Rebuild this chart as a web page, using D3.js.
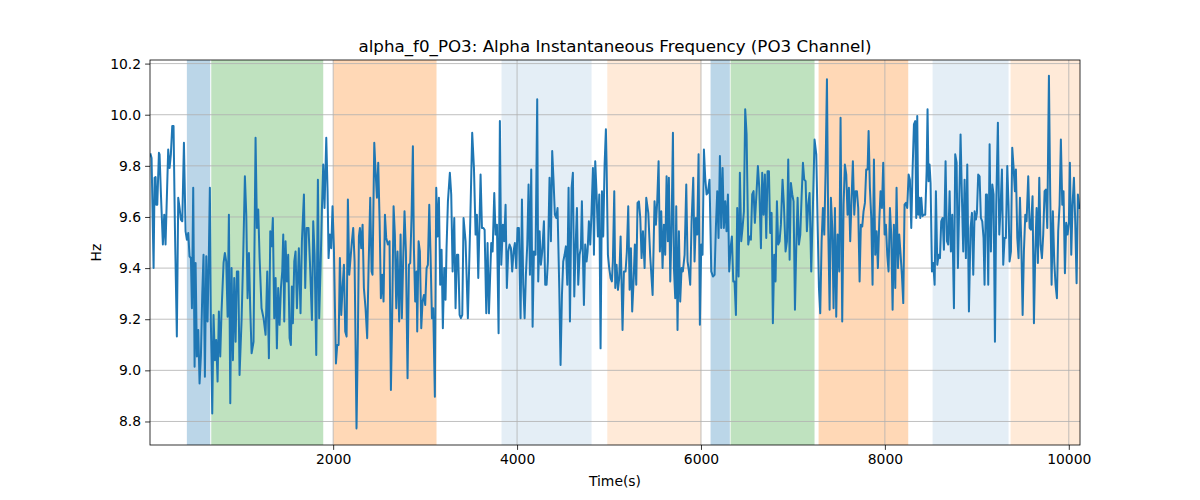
<!DOCTYPE html>
<html><head><meta charset="utf-8">
<script src="https://cdn.jsdelivr.net/npm/d3@7"></script>
<style>body{margin:0;background:#fff}svg{display:block}text{font-family:"DejaVu Sans",sans-serif;fill:#000}</style>
</head><body><svg id="c" width="1200" height="500"></svg>
<script>
const title = "alpha_f0_PO3: Alpha Instantaneous Frequency (PO3 Channel)";
const xLabel = "Time(s)";
const yLabel = "Hz";
const xTicks = [2000, 4000, 6000, 8000, 10000];
const yTicks = [8.8, 9.0, 9.2, 9.4, 9.6, 9.8, 10.0, 10.2];
const xRange = [8, 10122];
const yRange = [8.708, 10.214];

const spanStart = [409, 674, 2001, 3831, 4981, 6104, 6322, 7279, 8519, 9367];
const spanEnd   = [663, 1892, 3124, 4810, 6003, 6314, 7235, 8254, 9345, 10122];
const spanColor = ["#1f77b4","#2ca02c","#ff7f0e","#1f77b4","#ff7f0e","#1f77b4","#2ca02c","#ff7f0e","#1f77b4","#ff7f0e"];
const spanAlpha = [0.3, 0.3, 0.3, 0.12, 0.16, 0.3, 0.3, 0.3, 0.12, 0.16];

const times = [
14,25,47,58,69,76,87,105,112,127,148,163,177,206,221,235,250,264,279,300,315,330,344,359,377,395,409,424,438,453,464,478,493,504,518,533,547,562,576,590,605,620,634,648,659,670,685,699,714,728,743,757,772,786,808,822,837,852,866,881,895,910,924,939,953,968,982,1004,1022,1040,1055,1069,1084,1098,1113,1134,1156,1171,1185,1200,1221,1243,1265,1283,1301,1316,1330,1344,1359,1374,1388,1402,1417,1432,1446,1457,1468,1482,1497,1511,1526,1540,1551,1562,1577,1591,1606,1627,
1645,1660,1682,1696,1711,1732,1747,1769,1783,1798,1816,1834,1848,1863,1877,1892,1906,1925,1939,1950,1964,1979,1993,2008,2030,2044,2059,2073,2088,2102,2117,2131,2146,2160,2175,2189,2204,2218,2233,2254,2269,2280,2291,2305,2320,2334,2352,2370,2385,2403,2418,2428,2447,2461,2476,2490,2505,2519,2534,2548,2563,2577,2595,2613,2628,2642,2657,2671,2686,2700,2718,2733,2747,2762,2776,2791,2809,2824,2838,2853,2867,2878,2892,2907,2914,2929,2943,2958,2972,2987,3001,3016,3030,3045,3059,3074,3088,3106,3121,3135,3150,3164,3179,3193,3208,3222,3233,3248,3269,3284,3299,
3317,3331,3346,3360,3375,3389,3404,3418,3440,3465,3491,3512,3531,3549,3563,3578,3592,3603,3618,3632,3647,3665,3679,3694,3719,3734,3752,3766,3781,3799,3813,3828,3846,3860,3875,3889,3904,3918,3933,3947,3962,3976,3991,4005,4020,4038,4053,4067,4082,4096,4111,4125,4140,4154,4169,4183,4201,4219,4230,4245,4259,4274,4292,4306,4321,4335,4353,4368,4382,4397,4411,4426,4440,4459,4473,4488,4502,4517,4531,4546,4560,4575,4593,4607,4622,4636,4651,4665,4680,4694,4705,4716,4727,4741,4756,4767,4781,4796,4810,4825,4836,4850,4865,4879,4894,4908,4923,4937,4952,4966,
4973,4988,5002,5017,5031,5042,5057,5068,5082,5097,5111,5126,5147,5162,5180,5194,5209,5224,5238,5252,5267,5281,5296,5310,5325,5340,5354,5369,5387,5405,5427,5448,5474,5495,5510,5524,5539,5553,5568,5582,5597,5611,5626,5640,5651,5666,5680,5695,5706,5720,5731,5745,5760,5774,5789,5803,5822,5840,5854,5869,5883,5898,5916,5930,5945,5959,5974,5988,6003,6017,6032,6046,6061,6075,6093,6112,6130,6148,6162,6177,6191,6206,6220,6235,6249,6264,6278,6293,6307,6322,6336,6351,6365,6380,6394,6409,6423,6438,6452,6467,6481,6496,6514,6528,6543,6557,6572,6586,6605,6619,6634,
6652,6666,6681,6695,6710,6724,6739,6753,6768,6782,6797,6811,6826,6840,6855,6869,6887,6902,6920,6935,6949,6964,6978,6993,7007,7022,7036,7051,7065,7080,7094,7109,7123,7138,7152,7167,7181,7199,7217,7235,7254,7268,7283,7297,7312,7326,7341,7355,7370,7384,7399,7413,7428,7442,7457,7471,7486,7504,7518,7536,7551,7565,7580,7594,7609,7623,7638,7652,7667,7681,7696,7710,7725,7739,7754,7768,7783,7797,7812,7823,7837,7852,7866,7881,7895,7910,7924,7939,7953,7968,7982,7997,8011,8026,8040,8055,8069,8084,8098,8113,8127,8142,8156,8171,8185,8200,8214,8229,8243,8258,8272,8287,8301,8316,
8330,8341,8352,8363,8374,8385,8396,8410,8425,8439,8454,8464,8475,8486,8497,8512,8526,8541,8555,8570,8584,8599,8613,8628,8642,8660,8675,8689,8704,8718,8733,8751,8765,8780,8794,8809,8823,8838,8852,8867,8881,8896,8914,8932,8947,8961,8976,8990,9001,9015,9030,9044,9059,9073,9084,9099,9110,9124,9139,9153,9168,9182,9197,9211,9229,9244,9258,9273,9287,9302,9316,9331,9345,9356,9371,9385,9400,9414,9425,9440,9454,9469,9483,9498,9512,9527,9541,9559,9574,9588,9606,9621,9635,9650,9664,9679,9693,9708,9722,9737,9751,9766,9784,9798,9813,9827,9842,9856,9871,9885,9900,9914,9929,9943,9958,9972,9987,10001,10012,10027,10041,10056,10070,10085,10099,10114
];
const freqHz = [
9.845,9.831,9.400,9.753,9.756,9.648,9.648,9.851,9.845,9.688,9.492,9.609,9.492,9.864,9.792,9.845,9.956,9.956,9.557,9.132,9.675,9.635,9.590,9.583,9.890,9.544,9.511,9.537,9.446,9.439,9.243,9.714,9.014,9.420,9.054,9.158,8.949,9.060,9.295,9.452,8.975,9.446,9.191,9.452,9.714,9.191,8.831,9.217,9.040,9.119,8.956,9.230,9.054,9.230,9.420,9.459,9.426,9.210,9.609,8.871,9.400,9.040,9.361,9.112,9.387,9.387,8.982,9.197,9.452,9.759,9.609,9.282,9.459,9.243,9.067,9.112,9.910,9.557,9.629,9.439,9.243,9.204,9.139,9.387,9.047,9.544,9.485,9.596,9.204,9.361,9.086,9.322,9.178,9.322,9.387,9.531,9.191,9.505,9.348,9.452,9.126,9.099,9.328,9.184,9.426,9.465,9.243,9.478,
9.223,9.505,9.688,9.322,9.557,9.557,9.426,9.197,9.583,9.452,9.060,9.746,9.204,9.400,9.622,9.805,9.635,9.910,9.701,9.439,9.531,9.478,9.642,9.478,9.027,9.099,9.099,9.439,9.217,9.322,9.413,9.152,9.132,9.668,9.374,9.439,9.505,9.557,9.426,8.773,9.139,9.524,9.557,9.478,9.570,9.322,9.243,9.126,9.400,9.675,9.387,9.374,9.890,9.779,9.675,9.812,9.583,9.282,9.374,9.269,9.609,9.518,9.492,9.505,8.923,9.217,9.642,9.531,9.243,9.465,9.191,9.531,9.204,9.439,9.622,9.465,8.969,9.413,9.420,9.609,9.877,9.478,9.269,9.387,9.152,9.505,9.465,9.165,9.269,9.295,9.256,9.400,9.413,9.648,9.452,9.204,9.243,8.897,9.714,9.524,9.675,9.335,9.472,9.165,9.400,9.276,9.478,9.661,9.773,9.688,9.387,
9.596,9.243,9.452,9.452,9.217,9.204,9.217,9.596,9.505,9.204,9.583,9.929,9.792,9.531,9.609,9.361,9.583,9.766,9.557,9.557,9.550,9.223,9.498,9.223,9.498,9.465,9.694,9.531,9.570,9.145,9.975,9.413,9.570,9.505,9.648,9.322,9.465,9.492,9.478,9.387,9.465,9.498,9.400,9.557,9.557,9.204,9.668,9.335,9.204,9.374,9.492,9.727,9.374,9.786,9.171,9.465,9.452,10.060,9.348,9.544,9.413,9.465,9.583,9.335,9.335,9.426,9.753,9.505,9.858,9.740,9.609,9.596,9.635,9.322,9.021,9.295,9.426,9.452,9.485,9.335,9.714,9.191,9.714,9.773,9.289,9.478,9.635,9.335,9.452,9.478,9.661,9.452,9.256,9.492,9.426,9.465,9.583,9.492,9.622,9.792,9.452,9.818,9.688,9.524,9.688,9.086,9.701,9.524,9.805,9.943,
9.818,9.452,9.400,9.361,9.348,9.426,9.701,9.322,9.413,9.315,9.361,9.524,9.158,9.387,9.387,9.465,9.642,9.315,9.478,9.230,9.348,9.492,9.335,9.655,9.661,9.596,9.439,9.544,9.400,9.675,9.616,9.446,9.295,9.661,9.570,9.661,9.818,9.465,9.622,9.400,9.570,9.452,9.759,9.505,9.753,9.348,9.557,9.929,9.400,9.282,9.642,9.158,9.544,9.269,9.400,9.387,9.452,9.727,9.426,9.387,9.335,9.583,9.753,9.426,9.596,9.531,9.845,9.178,9.492,9.452,9.864,9.753,9.688,9.694,9.746,9.387,9.367,9.374,9.557,9.701,9.518,9.838,9.557,9.792,9.557,9.661,9.544,9.688,9.387,9.478,9.524,9.348,9.348,9.217,9.635,9.367,9.773,9.505,9.557,9.622,10.021,9.923,9.492,9.524,9.511,9.688,9.701,9.577,9.701,9.799,9.714,
9.478,9.773,9.609,9.766,9.518,9.779,9.779,9.537,9.616,9.184,9.452,9.348,9.661,9.492,9.505,9.570,9.746,9.648,9.465,9.505,9.825,9.433,9.733,9.688,9.661,9.237,9.478,9.675,9.492,9.531,9.675,9.812,9.746,9.740,9.544,9.648,9.694,9.387,9.635,9.903,9.845,9.583,9.322,9.223,9.505,9.635,9.531,9.779,10.139,9.557,9.237,9.675,9.557,9.243,9.635,9.210,9.531,9.387,9.988,9.191,9.648,9.805,9.766,9.609,9.714,9.505,9.675,9.818,9.609,9.701,9.701,9.635,9.348,9.570,9.563,9.622,9.655,9.786,9.786,9.936,9.714,9.596,9.335,9.825,9.452,9.544,9.400,9.583,9.701,9.635,9.812,9.531,9.570,9.452,9.387,9.635,9.531,9.237,9.570,9.322,9.714,9.400,9.531,9.452,9.374,9.263,9.648,9.655,9.635,9.766,9.746,9.557,9.779,9.962,
9.975,9.596,9.995,9.609,9.675,9.596,9.675,9.603,9.609,9.609,9.779,10.021,9.740,9.805,9.733,9.387,9.420,9.335,9.701,9.413,9.452,9.439,9.583,9.596,9.472,9.818,9.505,9.492,9.701,9.465,9.609,9.243,9.845,9.812,9.400,9.661,9.923,9.675,9.465,9.746,9.439,9.805,9.230,9.557,9.616,9.374,9.622,9.590,9.616,9.766,9.759,9.596,9.583,9.518,9.335,9.688,9.688,9.335,9.884,9.465,9.727,9.688,9.112,9.648,9.969,9.531,9.635,9.786,9.413,9.518,9.518,9.799,9.648,9.426,9.465,9.871,9.792,9.701,9.786,9.518,9.439,9.675,9.505,9.217,9.465,9.609,9.583,9.759,9.557,9.550,9.681,9.184,9.452,9.635,9.420,9.753,9.492,9.439,9.531,9.701,9.707,9.557,10.152,9.688,9.335,9.622,9.426,9.335,9.282,9.544,9.648,9.903,9.648,9.701,9.380,9.577,9.531,9.577,9.812,9.452,9.648,9.753,9.583,9.341,9.688,9.635
];

const W = 1200, H = 500;
const m = {left: 150, top: 60, right: 120, bottom: 55};
const iw = W - m.left - m.right, ih = H - m.top - m.bottom;
const svg = d3.select("#c");
const x = d3.scaleLinear().domain(xRange).range([0, iw]);
const y = d3.scaleLinear().domain(yRange).range([ih, 0]);
const g = svg.append("g").attr("transform", `translate(${m.left},${m.top})`);

g.append("clipPath").attr("id","clip").append("rect").attr("width", iw).attr("height", ih);

// spans
g.append("g").attr("clip-path","url(#clip)").selectAll("rect").data(spanStart.map((s,i)=>i)).join("rect")
  .attr("x", i => x(spanStart[i])).attr("width", i => x(spanEnd[i]) - x(spanStart[i]))
  .attr("y", 0).attr("height", ih)
  .attr("fill", i => spanColor[i]).attr("fill-opacity", i => spanAlpha[i]);

// grid
const grid = g.append("g");
grid.selectAll(".gx").data(xTicks).join("line")
  .attr("x1", d => x(d)).attr("x2", d => x(d)).attr("y1", 0).attr("y2", ih)
  .attr("stroke", "#b0b0b0").attr("stroke-width", 0.8);
grid.selectAll(".gy").data(yTicks).join("line")
  .attr("y1", d => y(d)).attr("y2", d => y(d)).attr("x1", 0).attr("x2", iw)
  .attr("stroke", "#b0b0b0").attr("stroke-width", 0.8);

// line
const pts = times.map((t,i)=>[t, freqHz[i]]);
g.append("path").datum(pts).attr("clip-path","url(#clip)")
  .attr("fill","none").attr("stroke","#1f77b4").attr("stroke-width",2)
  .attr("stroke-linejoin","round").attr("stroke-linecap","square")
  .attr("d", d3.line().x(d=>x(d[0])).y(d=>y(d[1])));

// axes
const xAxis = g.append("g").attr("transform",`translate(0,${ih})`)
  .call(d3.axisBottom(x).tickValues(xTicks).tickFormat(d3.format("d")).tickSizeOuter(0).tickSize(4.9).tickPadding(4));
const yAxis = g.append("g")
  .call(d3.axisLeft(y).tickValues(yTicks).tickFormat(d3.format(".1f")).tickSizeOuter(0).tickSize(4.9).tickPadding(4));
[xAxis, yAxis].forEach(a => {
  a.select(".domain").remove();
  a.selectAll(".tick line").attr("stroke","#000").attr("stroke-width",0.8);
  a.selectAll(".tick text").attr("font-size", 13.9).attr("font-family","DejaVu Sans").attr("fill","#000");
});
// frame
g.append("rect").attr("width", iw).attr("height", ih).attr("fill","none").attr("stroke","#000").attr("stroke-width",0.8);

svg.append("text").attr("x", m.left + iw/2).attr("y", 52).attr("text-anchor","middle")
  .attr("font-size", 16.7).text(title);
svg.append("text").attr("x", m.left + iw/2).attr("y", 486).attr("text-anchor","middle")
  .attr("font-size", 13.9).text(xLabel);
svg.append("text").attr("transform", `translate(101,${m.top + ih/2}) rotate(-90)`).attr("text-anchor","middle")
  .attr("font-size", 13.9).text(yLabel);
</script></body></html>
